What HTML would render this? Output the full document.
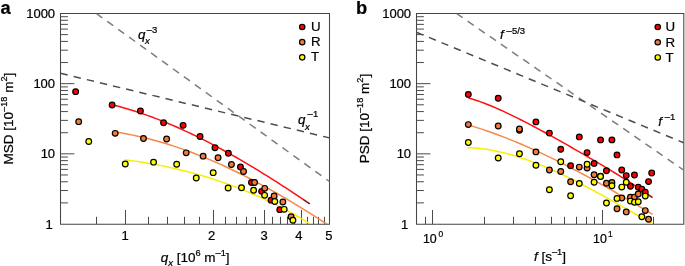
<!DOCTYPE html>
<html><head><meta charset="utf-8"><style>
html,body{margin:0;padding:0;background:#fff;width:685px;height:266px;overflow:hidden}
svg{display:block;will-change:transform}
text{stroke:#000;stroke-width:0.22px;paint-order:stroke}
</style></head><body>
<svg width="685" height="266" viewBox="0 0 685 266" font-family='"Liberation Sans", sans-serif'>
<defs>
<clipPath id="cl"><rect x="60.5" y="13.5" width="269.0" height="210.5"/></clipPath>
<clipPath id="cr"><rect x="416.5" y="13.5" width="267.0" height="210.5"/></clipPath>
</defs>
<rect width="685" height="266" fill="#fff"/>
<path d="M60.5 13.5H329.5V224.2H60.5Z" fill="none" stroke="#454545" stroke-width="1.05"/>
<path d="M416.5 13.5H683.8V224.2H416.5Z" fill="none" stroke="#454545" stroke-width="1.05"/>
<path d="M60.5 202.88h7.4M60.5 190.52h7.4M60.5 181.76h7.4M60.5 174.96h7.4M60.5 169.4h7.4M60.5 164.7h7.4M60.5 160.63h7.4M60.5 157.04h7.4M60.5 153.83h13.9M60.5 132.71h7.4M60.5 120.36h7.4M60.5 111.59h7.4M60.5 104.79h7.4M60.5 99.23h7.4M60.5 94.54h7.4M60.5 90.47h7.4M60.5 86.88h7.4M60.5 83.67h13.9M60.5 62.54h7.4M60.5 50.19h7.4M60.5 41.42h7.4M60.5 34.62h7.4M60.5 29.07h7.4M60.5 24.37h7.4M60.5 20.3h7.4M60.5 16.71h7.4" stroke="#4a4a4a" stroke-width="1" fill="none"/>
<path d="M416.5 202.88h7.4M416.5 190.52h7.4M416.5 181.76h7.4M416.5 174.96h7.4M416.5 169.4h7.4M416.5 164.7h7.4M416.5 160.63h7.4M416.5 157.04h7.4M416.5 153.83h13.9M416.5 132.71h7.4M416.5 120.36h7.4M416.5 111.59h7.4M416.5 104.79h7.4M416.5 99.23h7.4M416.5 94.54h7.4M416.5 90.47h7.4M416.5 86.88h7.4M416.5 83.67h13.9M416.5 62.54h7.4M416.5 50.19h7.4M416.5 41.42h7.4M416.5 34.62h7.4M416.5 29.07h7.4M416.5 24.37h7.4M416.5 20.3h7.4M416.5 16.71h7.4" stroke="#4a4a4a" stroke-width="1" fill="none"/>
<path d="M96.5 224.2v-7.4M148.5 224.2v-7.4M167.5 224.2v-7.4M184.5 224.2v-7.4M199.5 224.2v-7.4M225.5 224.2v-7.4M236.5 224.2v-7.4M246.5 224.2v-7.4M255.5 224.2v-7.4M272.5 224.2v-7.4M280.5 224.2v-7.4M287.5 224.2v-7.4M294.5 224.2v-7.4M307.5 224.2v-7.4M313.5 224.2v-7.4M318.5 224.2v-7.4M324.5 224.2v-7.4M125.5 224.2v-14.2M213.5 224.2v-14.2M264.5 224.2v-14.2M301.5 224.2v-14.2" stroke="#4a4a4a" stroke-width="1" fill="none"/>
<path d="M425.5 224.2v-7.4M484.5 224.2v-7.4M513.5 224.2v-7.4M535.5 224.2v-7.4M551.5 224.2v-7.4M564.5 224.2v-7.4M576.5 224.2v-7.4M586.5 224.2v-7.4M594.5 224.2v-7.4M653.5 224.2v-7.4M432.5 224.2v-14.2M602.5 224.2v-14.2" stroke="#4a4a4a" stroke-width="1" fill="none"/>
<line x1="96.3" y1="13.5" x2="340" y2="189.1" stroke="#7d7d7d" stroke-width="1.5" stroke-dasharray="7.4 6.1" clip-path="url(#cl)"/>
<line x1="60.5" y1="73.3" x2="340" y2="140.43" stroke="#4d4d4d" stroke-width="1.5" stroke-dasharray="7.4 6.1" clip-path="url(#cl)"/>
<path d="M111.66 104.64 L115.02 105.48 L118.38 106.35 L121.73 107.26 L125.09 108.21 L128.45 109.19 L131.81 110.21 L135.17 111.27 L138.53 112.36 L141.88 113.49 L145.24 114.65 L148.6 115.84 L151.96 117.07 L155.32 118.33 L158.68 119.62 L162.03 120.95 L165.39 122.31 L168.75 123.69 L172.11 125.11 L175.47 126.56 L178.83 128.04 L182.18 129.55 L185.54 131.08 L188.9 132.65 L192.26 134.24 L195.62 135.86 L198.98 137.51 L202.33 139.18 L205.69 140.88 L209.05 142.6 L212.41 144.35 L215.77 146.13 L219.13 147.92 L222.48 149.75 L225.84 151.59 L229.2 153.46 L232.56 155.35 L235.92 157.26 L239.28 159.19 L242.63 161.14 L245.99 163.12 L249.35 165.11 L252.71 167.12 L256.07 169.16 L259.43 171.21 L262.78 173.27 L266.14 175.36 L269.5 177.46 L272.86 179.58 L276.22 181.72 L279.58 183.87 L282.93 186.03 L286.29 188.21 L289.65 190.41 L293.01 192.62 L296.37 194.84 L299.73 197.08 L303.08 199.32" fill="none" stroke="#ff1010" stroke-width="1.5" stroke-linejoin="round"/>
<path d="M303.08 199.32 L306.44 201.58 L309.8 203.85" fill="none" stroke="#8c0a0a" stroke-width="1.5" stroke-linejoin="round"/>
<path d="M114.73 131.88 L118.38 132.44 L122.03 133.05 L125.68 133.7 L129.32 134.39 L132.97 135.13 L136.62 135.91 L140.27 136.72 L143.92 137.58 L147.57 138.49 L151.22 139.43 L154.87 140.41 L158.51 141.43 L162.16 142.49 L165.81 143.58 L169.46 144.72 L173.11 145.89 L176.76 147.1 L180.41 148.35 L184.05 149.64 L187.7 150.96 L191.35 152.31 L195 153.7 L198.65 155.13 L202.3 156.59 L205.95 158.09 L209.59 159.61 L213.24 161.17 L216.89 162.77 L220.54 164.4 L224.19 166.05 L227.84 167.74 L231.49 169.47 L235.14 171.22 L238.78 173 L242.43 174.81 L246.08 176.65 L249.73 178.52 L253.38 180.42 L257.03 182.35 L260.68 184.31 L264.32 186.29 L267.97 188.3 L271.62 190.33 L275.27 192.4 L278.92 194.49 L282.57 196.6 L286.22 198.74 L289.86 200.9 L293.51 203.09 L297.16 205.3 L300.81 207.53 L304.46 209.79 L308.11 212.07 L311.76 214.37 L315.41 216.69 L319.05 219.03 L322.7 221.4 L326.35 223.78 L330 226.19" fill="none" stroke="#f7884a" stroke-width="1.5" stroke-linejoin="round" clip-path="url(#cl)"/>
<path d="M124.8 159.8 L128.11 160.22 L131.42 160.66 L134.73 161.12 L138.03 161.61 L141.34 162.11 L144.65 162.64 L147.96 163.19 L151.27 163.77 L154.58 164.36 L157.89 164.99 L161.19 165.63 L164.5 166.3 L167.81 166.99 L171.12 167.71 L174.43 168.45 L177.74 169.22 L181.04 170.01 L184.35 170.83 L187.66 171.67 L190.97 172.54 L194.28 173.44 L197.59 174.36 L200.9 175.31 L204.2 176.29 L207.51 177.3 L210.82 178.33 L214.13 179.39 L217.44 180.48 L220.75 181.6 L224.05 182.75 L227.36 183.93 L230.67 185.14 L233.98 186.38 L237.29 187.65 L240.6 188.95 L243.91 190.28 L247.21 191.64 L250.52 193.03 L253.83 194.46 L257.14 195.91 L260.45 197.4 L263.76 198.92 L267.06 200.48 L270.37 202.07 L273.68 203.69 L276.99 205.35 L280.3 207.04 L283.61 208.76 L286.92 210.52 L290.22 212.31 L293.53 214.14 L296.84 216.01 L300.15 217.91 L303.46 219.84 L306.77 221.82 L310.07 223.83 L313.38 225.88 L316.69 227.96 L320 230.08" fill="none" stroke="#f5f000" stroke-width="1.5" stroke-linejoin="round" clip-path="url(#cl)"/>
<circle cx="75.61" cy="91.65" r="2.85" fill="#ff0000" stroke="#000" stroke-width="1.2"/>
<circle cx="112.11" cy="105.05" r="2.85" fill="#ff0000" stroke="#000" stroke-width="1.2"/>
<circle cx="140.42" cy="110.95" r="2.85" fill="#ff0000" stroke="#000" stroke-width="1.2"/>
<circle cx="163.55" cy="122.75" r="2.85" fill="#ff0000" stroke="#000" stroke-width="1.2"/>
<circle cx="183.11" cy="125.35" r="2.85" fill="#ff0000" stroke="#000" stroke-width="1.2"/>
<circle cx="200.05" cy="136.55" r="2.85" fill="#ff0000" stroke="#000" stroke-width="1.2"/>
<circle cx="214.99" cy="147.75" r="2.85" fill="#ff0000" stroke="#000" stroke-width="1.2"/>
<circle cx="228.36" cy="153.25" r="2.85" fill="#ff0000" stroke="#000" stroke-width="1.2"/>
<circle cx="240.45" cy="167.05" r="2.85" fill="#ff0000" stroke="#000" stroke-width="1.2"/>
<circle cx="251.49" cy="182.45" r="2.85" fill="#ff0000" stroke="#000" stroke-width="1.2"/>
<circle cx="261.65" cy="191.35" r="2.85" fill="#ff0000" stroke="#000" stroke-width="1.2"/>
<circle cx="271.05" cy="200.15" r="2.85" fill="#ff0000" stroke="#000" stroke-width="1.2"/>
<circle cx="279.8" cy="209.65" r="2.85" fill="#ff0000" stroke="#000" stroke-width="1.2"/>
<circle cx="78.68" cy="121.65" r="2.85" fill="#f27b35" stroke="#000" stroke-width="1.2"/>
<circle cx="115.18" cy="133.35" r="2.85" fill="#f27b35" stroke="#000" stroke-width="1.2"/>
<circle cx="143.49" cy="138.55" r="2.85" fill="#f27b35" stroke="#000" stroke-width="1.2"/>
<circle cx="166.62" cy="139.05" r="2.85" fill="#f27b35" stroke="#000" stroke-width="1.2"/>
<circle cx="186.18" cy="152.85" r="2.85" fill="#f27b35" stroke="#000" stroke-width="1.2"/>
<circle cx="203.12" cy="156.15" r="2.85" fill="#f27b35" stroke="#000" stroke-width="1.2"/>
<circle cx="218.06" cy="157.75" r="2.85" fill="#f27b35" stroke="#000" stroke-width="1.2"/>
<circle cx="231.43" cy="164.55" r="2.85" fill="#f27b35" stroke="#000" stroke-width="1.2"/>
<circle cx="243.52" cy="171.55" r="2.85" fill="#f27b35" stroke="#000" stroke-width="1.2"/>
<circle cx="254.56" cy="182.45" r="2.85" fill="#f27b35" stroke="#000" stroke-width="1.2"/>
<circle cx="264.72" cy="188.35" r="2.85" fill="#f27b35" stroke="#000" stroke-width="1.2"/>
<circle cx="274.12" cy="196.05" r="2.85" fill="#f27b35" stroke="#000" stroke-width="1.2"/>
<circle cx="282.87" cy="202.05" r="2.85" fill="#f27b35" stroke="#000" stroke-width="1.2"/>
<circle cx="291.06" cy="216.75" r="2.85" fill="#f27b35" stroke="#000" stroke-width="1.2"/>
<circle cx="88.75" cy="141.45" r="2.85" fill="#ffff00" stroke="#000" stroke-width="1.2"/>
<circle cx="125.25" cy="164.05" r="2.85" fill="#ffff00" stroke="#000" stroke-width="1.2"/>
<circle cx="153.56" cy="162.15" r="2.85" fill="#ffff00" stroke="#000" stroke-width="1.2"/>
<circle cx="176.69" cy="164.25" r="2.85" fill="#ffff00" stroke="#000" stroke-width="1.2"/>
<circle cx="196.25" cy="178.05" r="2.85" fill="#ffff00" stroke="#000" stroke-width="1.2"/>
<circle cx="213.19" cy="172.65" r="2.85" fill="#ffff00" stroke="#000" stroke-width="1.2"/>
<circle cx="228.13" cy="188.05" r="2.85" fill="#ffff00" stroke="#000" stroke-width="1.2"/>
<circle cx="241.5" cy="187.75" r="2.85" fill="#ffff00" stroke="#000" stroke-width="1.2"/>
<circle cx="253.59" cy="190.25" r="2.85" fill="#ffff00" stroke="#000" stroke-width="1.2"/>
<circle cx="264.63" cy="195.35" r="2.85" fill="#ffff00" stroke="#000" stroke-width="1.2"/>
<circle cx="274.79" cy="201.45" r="2.85" fill="#ffff00" stroke="#000" stroke-width="1.2"/>
<circle cx="284.19" cy="209.35" r="2.85" fill="#ffff00" stroke="#000" stroke-width="1.2"/>
<circle cx="292.94" cy="220.25" r="2.85" fill="#ffff00" stroke="#000" stroke-width="1.2"/>
<circle cx="302.2" cy="26.95" r="2.7" fill="#ff0000" stroke="#000" stroke-width="1.2"/>
<text x="311" y="30.8" font-size="13.3" text-anchor="start" >U</text>
<circle cx="302.2" cy="42.15" r="2.7" fill="#f27b35" stroke="#000" stroke-width="1.2"/>
<text x="311" y="46" font-size="13.3" text-anchor="start" >R</text>
<circle cx="302.2" cy="57.35" r="2.7" fill="#ffff00" stroke="#000" stroke-width="1.2"/>
<text x="311" y="61.2" font-size="13.3" text-anchor="start" >T</text>
<line x1="456.5" y1="13.5" x2="700" y2="181.37" stroke="#7d7d7d" stroke-width="1.5" stroke-dasharray="7.4 6.1" clip-path="url(#cr)"/>
<line x1="416.5" y1="32.25" x2="700" y2="149.52" stroke="#4d4d4d" stroke-width="1.5" stroke-dasharray="7.4 6.1" clip-path="url(#cr)"/>
<path d="M468.1 97.87 L471.22 98.79 L474.35 99.77 L477.47 100.81 L480.6 101.9 L483.72 103.05 L486.85 104.25 L489.98 105.5 L493.1 106.79 L496.23 108.12 L499.35 109.49 L502.48 110.9 L505.6 112.34 L508.73 113.81 L511.85 115.31 L514.98 116.84 L518.1 118.39 L521.23 119.97 L524.36 121.57 L527.48 123.19 L530.61 124.82 L533.73 126.48 L536.86 128.15 L539.98 129.83 L543.11 131.53 L546.23 133.24 L549.36 134.96 L552.48 136.69 L555.61 138.42 L558.74 140.17 L561.86 141.93 L564.99 143.69 L568.11 145.46 L571.24 147.24 L574.36 149.03 L577.49 150.82 L580.61 152.62 L583.74 154.42 L586.87 156.24 L589.99 158.06 L593.12 159.89 L596.24 161.72 L599.37 163.57 L602.49 165.43 L605.62 167.3 L608.74 169.18 L611.87 171.08 L614.99 172.99 L618.12 174.91 L621.25 176.86 L624.37 178.82 L627.5 180.8 L630.62 182.81 L633.75 184.83 L636.87 186.89 L640 188.97 L643.12 191.08" fill="none" stroke="#ff1010" stroke-width="1.5" stroke-linejoin="round"/>
<path d="M646.25 193.23 L649.37 195.41 L652.5 197.62" fill="none" stroke="#8c0a0a" stroke-width="1.5" stroke-linejoin="round"/>
<path d="M467.56 124.73 L470.7 125.66 L473.83 126.62 L476.97 127.61 L480.1 128.62 L483.24 129.66 L486.37 130.72 L489.5 131.81 L492.64 132.93 L495.77 134.07 L498.91 135.23 L502.04 136.42 L505.18 137.64 L508.31 138.87 L511.45 140.13 L514.58 141.41 L517.72 142.71 L520.85 144.04 L523.98 145.38 L527.12 146.75 L530.25 148.14 L533.39 149.55 L536.52 150.97 L539.66 152.42 L542.79 153.89 L545.93 155.37 L549.06 156.88 L552.2 158.4 L555.33 159.94 L558.46 161.49 L561.6 163.07 L564.73 164.66 L567.87 166.26 L571 167.88 L574.14 169.52 L577.27 171.17 L580.41 172.84 L583.54 174.52 L586.68 176.21 L589.81 177.92 L592.94 179.64 L596.08 181.37 L599.21 183.12 L602.35 184.88 L605.48 186.65 L608.62 188.43 L611.75 190.22 L614.89 192.02 L618.02 193.84 L621.15 195.66 L624.29 197.49 L627.42 199.33 L630.56 201.18 L633.69 203.04 L636.83 204.9 L639.96 206.77 L643.1 208.65 L646.23 210.54 L649.37 212.43 L652.5 214.33" fill="none" stroke="#f7884a" stroke-width="1.5" stroke-linejoin="round"/>
<path d="M467.56 147.66 L470.7 147.78 L473.83 147.97 L476.97 148.22 L480.1 148.54 L483.24 148.91 L486.37 149.34 L489.5 149.84 L492.64 150.39 L495.77 150.99 L498.91 151.65 L502.04 152.36 L505.18 153.13 L508.31 153.95 L511.45 154.81 L514.58 155.72 L517.72 156.68 L520.85 157.69 L523.98 158.73 L527.12 159.83 L530.25 160.96 L533.39 162.13 L536.52 163.34 L539.66 164.59 L542.79 165.88 L545.93 167.2 L549.06 168.55 L552.2 169.94 L555.33 171.35 L558.46 172.8 L561.6 174.27 L564.73 175.77 L567.87 177.3 L571 178.85 L574.14 180.43 L577.27 182.03 L580.41 183.64 L583.54 185.28 L586.68 186.93 L589.81 188.6 L592.94 190.29 L596.08 191.99 L599.21 193.7 L602.35 195.43 L605.48 197.16 L608.62 198.91 L611.75 200.66 L614.89 202.41 L618.02 204.17 L621.15 205.94 L624.29 207.71 L627.42 209.47 L630.56 211.24 L633.69 213.01 L636.83 214.77 L639.96 216.53 L643.1 218.28 L646.23 220.03 L649.37 221.77 L652.5 223.49" fill="none" stroke="#f5f000" stroke-width="1.5" stroke-linejoin="round"/>
<circle cx="468.3" cy="94.4" r="2.85" fill="#ff0000" stroke="#000" stroke-width="1.2"/>
<circle cx="498.22" cy="98.2" r="2.85" fill="#ff0000" stroke="#000" stroke-width="1.2"/>
<circle cx="519.45" cy="130.2" r="2.85" fill="#ff0000" stroke="#000" stroke-width="1.2"/>
<circle cx="535.92" cy="121.9" r="2.85" fill="#ff0000" stroke="#000" stroke-width="1.2"/>
<circle cx="549.38" cy="133.1" r="2.85" fill="#ff0000" stroke="#000" stroke-width="1.2"/>
<circle cx="560.76" cy="149.3" r="2.85" fill="#ff0000" stroke="#000" stroke-width="1.2"/>
<circle cx="570.61" cy="165.7" r="2.85" fill="#ff0000" stroke="#000" stroke-width="1.2"/>
<circle cx="579.3" cy="136.9" r="2.85" fill="#ff0000" stroke="#000" stroke-width="1.2"/>
<circle cx="587.08" cy="152.6" r="2.85" fill="#ff0000" stroke="#000" stroke-width="1.2"/>
<circle cx="594.11" cy="163.4" r="2.85" fill="#ff0000" stroke="#000" stroke-width="1.2"/>
<circle cx="600.54" cy="139.9" r="2.85" fill="#ff0000" stroke="#000" stroke-width="1.2"/>
<circle cx="606.44" cy="170.7" r="2.85" fill="#ff0000" stroke="#000" stroke-width="1.2"/>
<circle cx="611.91" cy="139.9" r="2.85" fill="#ff0000" stroke="#000" stroke-width="1.2"/>
<circle cx="617" cy="154.9" r="2.85" fill="#ff0000" stroke="#000" stroke-width="1.2"/>
<circle cx="621.77" cy="170" r="2.85" fill="#ff0000" stroke="#000" stroke-width="1.2"/>
<circle cx="626.24" cy="175.6" r="2.85" fill="#ff0000" stroke="#000" stroke-width="1.2"/>
<circle cx="630.46" cy="186.2" r="2.85" fill="#ff0000" stroke="#000" stroke-width="1.2"/>
<circle cx="634.45" cy="175" r="2.85" fill="#ff0000" stroke="#000" stroke-width="1.2"/>
<circle cx="638.24" cy="187.2" r="2.85" fill="#ff0000" stroke="#000" stroke-width="1.2"/>
<circle cx="641.84" cy="189.1" r="2.85" fill="#ff0000" stroke="#000" stroke-width="1.2"/>
<circle cx="645.27" cy="192.2" r="2.85" fill="#ff0000" stroke="#000" stroke-width="1.2"/>
<circle cx="648.55" cy="181.6" r="2.85" fill="#ff0000" stroke="#000" stroke-width="1.2"/>
<circle cx="651.69" cy="173" r="2.85" fill="#ff0000" stroke="#000" stroke-width="1.2"/>
<circle cx="468.3" cy="124.6" r="2.85" fill="#f27b35" stroke="#000" stroke-width="1.2"/>
<circle cx="498.22" cy="126" r="2.85" fill="#f27b35" stroke="#000" stroke-width="1.2"/>
<circle cx="519.45" cy="129" r="2.85" fill="#f27b35" stroke="#000" stroke-width="1.2"/>
<circle cx="535.92" cy="151.9" r="2.85" fill="#f27b35" stroke="#000" stroke-width="1.2"/>
<circle cx="549.38" cy="170" r="2.85" fill="#f27b35" stroke="#000" stroke-width="1.2"/>
<circle cx="560.76" cy="171.5" r="2.85" fill="#f27b35" stroke="#000" stroke-width="1.2"/>
<circle cx="570.61" cy="181.8" r="2.85" fill="#f27b35" stroke="#000" stroke-width="1.2"/>
<circle cx="579.3" cy="167.1" r="2.85" fill="#f27b35" stroke="#000" stroke-width="1.2"/>
<circle cx="587.08" cy="168.1" r="2.85" fill="#f27b35" stroke="#000" stroke-width="1.2"/>
<circle cx="594.11" cy="174.8" r="2.85" fill="#f27b35" stroke="#000" stroke-width="1.2"/>
<circle cx="600.54" cy="176.2" r="2.85" fill="#f27b35" stroke="#000" stroke-width="1.2"/>
<circle cx="606.44" cy="183.3" r="2.85" fill="#f27b35" stroke="#000" stroke-width="1.2"/>
<circle cx="611.91" cy="182.4" r="2.85" fill="#f27b35" stroke="#000" stroke-width="1.2"/>
<circle cx="617" cy="208.7" r="2.85" fill="#f27b35" stroke="#000" stroke-width="1.2"/>
<circle cx="621.77" cy="198" r="2.85" fill="#f27b35" stroke="#000" stroke-width="1.2"/>
<circle cx="626.24" cy="211.9" r="2.85" fill="#f27b35" stroke="#000" stroke-width="1.2"/>
<circle cx="630.46" cy="197.2" r="2.85" fill="#f27b35" stroke="#000" stroke-width="1.2"/>
<circle cx="634.45" cy="197.1" r="2.85" fill="#f27b35" stroke="#000" stroke-width="1.2"/>
<circle cx="638.24" cy="194" r="2.85" fill="#f27b35" stroke="#000" stroke-width="1.2"/>
<circle cx="645.27" cy="210.6" r="2.85" fill="#f27b35" stroke="#000" stroke-width="1.2"/>
<circle cx="648.55" cy="219.2" r="2.85" fill="#f27b35" stroke="#000" stroke-width="1.2"/>
<circle cx="468.3" cy="142.5" r="2.85" fill="#ffff00" stroke="#000" stroke-width="1.2"/>
<circle cx="498.22" cy="158" r="2.85" fill="#ffff00" stroke="#000" stroke-width="1.2"/>
<circle cx="519.45" cy="153.8" r="2.85" fill="#ffff00" stroke="#000" stroke-width="1.2"/>
<circle cx="535.92" cy="165.2" r="2.85" fill="#ffff00" stroke="#000" stroke-width="1.2"/>
<circle cx="549.38" cy="189.7" r="2.85" fill="#ffff00" stroke="#000" stroke-width="1.2"/>
<circle cx="560.76" cy="161.8" r="2.85" fill="#ffff00" stroke="#000" stroke-width="1.2"/>
<circle cx="570.61" cy="195.7" r="2.85" fill="#ffff00" stroke="#000" stroke-width="1.2"/>
<circle cx="579.3" cy="183.5" r="2.85" fill="#ffff00" stroke="#000" stroke-width="1.2"/>
<circle cx="587.08" cy="164.3" r="2.85" fill="#ffff00" stroke="#000" stroke-width="1.2"/>
<circle cx="594.11" cy="182.2" r="2.85" fill="#ffff00" stroke="#000" stroke-width="1.2"/>
<circle cx="600.54" cy="176.6" r="2.85" fill="#ffff00" stroke="#000" stroke-width="1.2"/>
<circle cx="606.44" cy="203" r="2.85" fill="#ffff00" stroke="#000" stroke-width="1.2"/>
<circle cx="611.91" cy="185.8" r="2.85" fill="#ffff00" stroke="#000" stroke-width="1.2"/>
<circle cx="617" cy="198.4" r="2.85" fill="#ffff00" stroke="#000" stroke-width="1.2"/>
<circle cx="621.77" cy="187.1" r="2.85" fill="#ffff00" stroke="#000" stroke-width="1.2"/>
<circle cx="626.24" cy="182.2" r="2.85" fill="#ffff00" stroke="#000" stroke-width="1.2"/>
<circle cx="630.46" cy="201.1" r="2.85" fill="#ffff00" stroke="#000" stroke-width="1.2"/>
<circle cx="634.45" cy="202.3" r="2.85" fill="#ffff00" stroke="#000" stroke-width="1.2"/>
<circle cx="638.24" cy="201.7" r="2.85" fill="#ffff00" stroke="#000" stroke-width="1.2"/>
<circle cx="641.84" cy="216.8" r="2.85" fill="#ffff00" stroke="#000" stroke-width="1.2"/>
<circle cx="645.27" cy="196.1" r="2.85" fill="#ffff00" stroke="#000" stroke-width="1.2"/>
<circle cx="657.75" cy="27.05" r="2.7" fill="#ff0000" stroke="#000" stroke-width="1.2"/>
<text x="665.6" y="31.4" font-size="13.3" text-anchor="start" >U</text>
<circle cx="657.75" cy="42.25" r="2.7" fill="#f27b35" stroke="#000" stroke-width="1.2"/>
<text x="665.6" y="46.6" font-size="13.3" text-anchor="start" >R</text>
<circle cx="657.75" cy="57.45" r="2.7" fill="#ffff00" stroke="#000" stroke-width="1.2"/>
<text x="665.6" y="61.8" font-size="13.3" text-anchor="start" >T</text>
<text x="55.1" y="18.1" font-size="13" text-anchor="end" >1000</text>
<text x="55.1" y="88.27" font-size="13" text-anchor="end" >100</text>
<text x="55.1" y="158.43" font-size="13" text-anchor="end" >10</text>
<text x="411.1" y="18.1" font-size="13" text-anchor="end" >1000</text>
<text x="411.1" y="88.27" font-size="13" text-anchor="end" >100</text>
<text x="411.1" y="158.43" font-size="13" text-anchor="end" >10</text>
<text x="45.4" y="228.8" font-size="13" text-anchor="start" >1</text>
<text x="401" y="228.8" font-size="13" text-anchor="start" >1</text>
<text x="121.5" y="239.6" font-size="13" text-anchor="start" >1</text>
<text x="211.5" y="239.6" font-size="13" text-anchor="middle" >2</text>
<text x="264.2" y="239.6" font-size="13" text-anchor="middle" >3</text>
<text x="298.8" y="239.6" font-size="13" text-anchor="middle" >4</text>
<text x="328.8" y="239.6" font-size="13" text-anchor="middle" >5</text>
<text x="422.9" y="242.8" font-size="12.4" text-anchor="start" >10</text>
<text x="438.5" y="236.8" font-size="8.4" text-anchor="start" >0</text>
<text x="593" y="242.8" font-size="12.4" text-anchor="start" >10</text>
<text x="607.9" y="236.8" font-size="8.4" text-anchor="start" >1</text>
<text x="138" y="38.9" font-size="13.3" text-anchor="start" font-style="italic">q</text>
<text x="145.1" y="44.3" font-size="9.5" text-anchor="start" font-style="italic">x</text>
<text x="146.8" y="33.2" font-size="9.5" text-anchor="start" >–3</text>
<text x="298" y="124.2" font-size="13.3" text-anchor="start" font-style="italic">q</text>
<text x="305.1" y="129.6" font-size="9.5" text-anchor="start" font-style="italic">x</text>
<text x="307.6" y="117.4" font-size="9.5" text-anchor="start" >–1</text>
<text x="500.1" y="39.3" font-size="13.3" text-anchor="start" font-style="italic">f</text>
<text x="506.6" y="34.2" font-size="9.5" text-anchor="start" >–5/3</text>
<text x="658.3" y="126" font-size="13.3" text-anchor="start" font-style="italic">f</text>
<text x="664.8" y="120.3" font-size="9.5" text-anchor="start" >–1</text>
<text transform="translate(13 118.6) rotate(-90)" font-size="13.5" text-anchor="middle">MSD [10<tspan font-size="9.2" dy="-6.3">–18</tspan><tspan dy="6.3"> m</tspan><tspan font-size="9.2" dy="-6.3">2</tspan><tspan dy="6.3">]</tspan></text>
<text transform="translate(369 118.6) rotate(-90)" font-size="13.5" text-anchor="middle">PSD [10<tspan font-size="9.2" dy="-6.3">–18</tspan><tspan dy="6.3"> m</tspan><tspan font-size="9.2" dy="-6.3">2</tspan><tspan dy="6.3">]</tspan></text>
<text x="195.1" y="261.9" font-size="13.5" text-anchor="middle"><tspan font-style="italic">q</tspan><tspan font-style="italic" font-size="9.5" dy="3.8">x</tspan><tspan dy="-3.8"> [10</tspan><tspan font-size="9.2" dy="-5.9">6</tspan><tspan dy="5.9"> m</tspan><tspan font-size="9.2" dy="-5.9">–1</tspan><tspan dy="5.9">]</tspan></text>
<text x="549.9" y="261.4" font-size="13.5" text-anchor="middle"><tspan font-style="italic">f</tspan><tspan> [s</tspan><tspan font-size="9.2" dy="-6.2">–1</tspan><tspan dy="6.2">]</tspan></text>
<text x="0.5" y="14" font-size="18.3" text-anchor="start" font-weight="bold">a</text>
<text x="355.9" y="13.9" font-size="18.3" text-anchor="start" font-weight="bold">b</text>
</svg>
</body></html>
